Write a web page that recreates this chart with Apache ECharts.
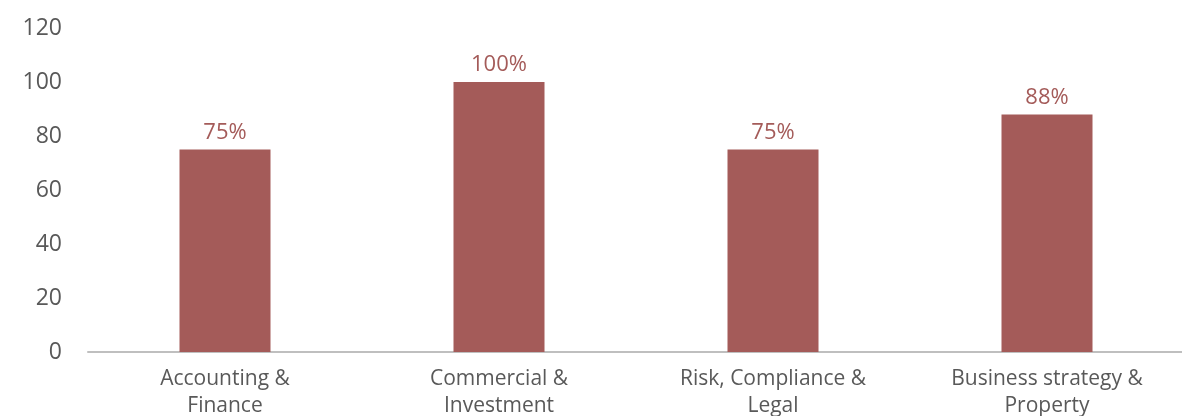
<!DOCTYPE html>
<html lang="en">
<head>
    <meta charset="UTF-8">
    <title>skills chart</title>
    <script type="text/javascript" src="https://cdn.jsdelivr.net/npm/echarts@6/dist/echarts.min.js"></script>
    <style>
        html, body { margin: 0; padding: 0; background: #fff; }
    </style>
</head>
<body>
    <div id="main" style="width: 1182px; height: 416px;"></div>
    <script type="text/javascript">
        var categories = ['Accounting &\nFinance', 'Commercial &\nInvestment', 'Risk, Compliance &\nLegal', 'Business strategy &\nProperty'];
        var values = [75, 100, 75, 88];
        var yTicks = { min: 0, max: 120, step: 20 };

        var myChart = echarts.init(document.getElementById('main'));
        var font = '"Open Sans", "Noto Sans", sans-serif';

        myChart.setOption({
            animation: false,
            grid: { left: 88, right: -2, top: 28, bottom: 64, outerBoundsMode: 'none', containLabel: false },
            xAxis: {
                type: 'category',
                data: categories,
                axisTick: { show: false },
                axisLine: { lineStyle: { color: '#bfbfbf', width: 2 } },
                axisLabel: {
                    color: '#595959', fontSize: 21, fontFamily: font,
                    margin: 14, lineHeight: 27, interval: 0
                }
            },
            yAxis: {
                type: 'value',
                min: yTicks.min, max: yTicks.max, interval: yTicks.step,
                splitLine: { show: false },
                axisLine: { show: false },
                axisTick: { show: false },
                axisLabel: { color: '#595959', fontSize: 23, fontFamily: font, margin: 26 }
            },
            series: [{
                type: 'bar',
                data: values,
                barWidth: 91,
                itemStyle: { color: '#a45b59' },
                label: {
                    show: true, position: 'top', distance: 6,
                    formatter: '{c}%',
                    color: '#a45b59', fontSize: 22, fontFamily: font
                }
            }]
        });
    </script>
</body>
</html>
